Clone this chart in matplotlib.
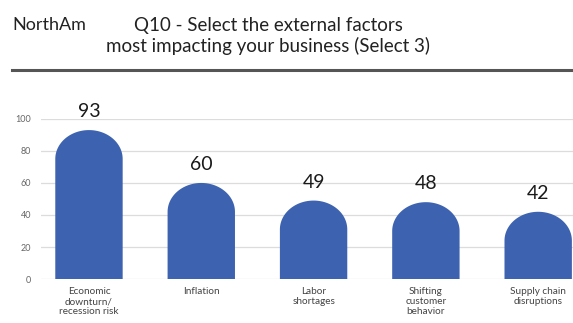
import matplotlib
matplotlib.use("Agg")
import matplotlib.pyplot as plt
from matplotlib.path import Path
from matplotlib.patches import PathPatch
import numpy as np

plt.rcParams['font.family'] = ['Lato', 'DejaVu Sans']

categories = ["Economic\ndownturn/\nrecession risk", "Inflation", "Labor\nshortages",
              "Shifting\ncustomer\nbehavior", "Supply chain\ndisruptions"]
values = [93, 60, 49, 48, 42]
yticks = [0, 20, 40, 60, 80, 100]

BAR_COLOR = "#3C62B0"
BAR_W = 0.6
CAP_H = 18.0  # height of the rounded top, in data units


def dome_bar(ax, xc, h, w, cap, color):
    """Bar with an elliptical dome on top; the apex sits at height h."""
    hw = w / 2
    cap = min(cap, h)
    base = h - cap
    t = np.linspace(np.pi, 0, 60)
    xs = xc + hw * np.cos(t)
    ys = base + cap * np.sin(t)
    verts = [(xc - hw, 0), (xc - hw, base)] + list(zip(xs, ys)) + [(xc + hw, base), (xc + hw, 0), (xc - hw, 0)]
    codes = [Path.MOVETO] + [Path.LINETO] * (len(verts) - 2) + [Path.CLOSEPOLY]
    ax.add_patch(PathPatch(Path(verts, codes), facecolor=color, edgecolor="none", zorder=3))


fig = plt.figure(figsize=(5.73, 3.23), dpi=100)
ax = fig.add_axes([0.071, 0.136, 0.929, 0.496])

x = np.arange(len(categories))
for xi, v in zip(x, values):
    dome_bar(ax, xi, v, BAR_W, CAP_H, BAR_COLOR)
    ax.annotate(f"{v}", (xi, v), xytext=(0, 7), textcoords="offset points",
                ha="center", va="bottom", fontsize=14, color="#1a1a1a", zorder=4)

ax.set_xlim(-0.43, 4.31)
ax.set_ylim(0, 100)
ax.set_yticks(yticks)
ax.set_yticklabels([str(t) for t in yticks], fontsize=6.5, color="#666666")
ax.set_xticks(x)
ax.set_xticklabels(categories, fontsize=7.2, color="#444444", linespacing=1.1, va="top")
ax.tick_params(axis="both", length=0)
ax.tick_params(axis="y", pad=7)
ax.tick_params(axis="x", pad=6)
ax.grid(axis="y", color="#dcdcdc", linewidth=0.9, zorder=0)
for s in ax.spines.values():
    s.set_visible(False)
ax.set_axisbelow(True)

# header
fig.text(12 / 573, 1 - 25 / 323, "NorthAm", fontsize=13, color="#222222", ha="left", va="center")
fig.text(268 / 573, 1 - 25 / 323, "Q10 - Select the external factors", fontsize=13.5,
         color="#222222", ha="center", va="center")
fig.text(268 / 573, 1 - 46 / 323, "most impacting your business (Select 3)", fontsize=13.5,
         color="#222222", ha="center", va="center")
fig.add_artist(plt.Line2D([12 / 573, 1.0], [1 - 70 / 323, 1 - 70 / 323],
                          transform=fig.transFigure, color="#555555", linewidth=2.2))

fig.savefig("out.png", dpi=100, facecolor="white")
